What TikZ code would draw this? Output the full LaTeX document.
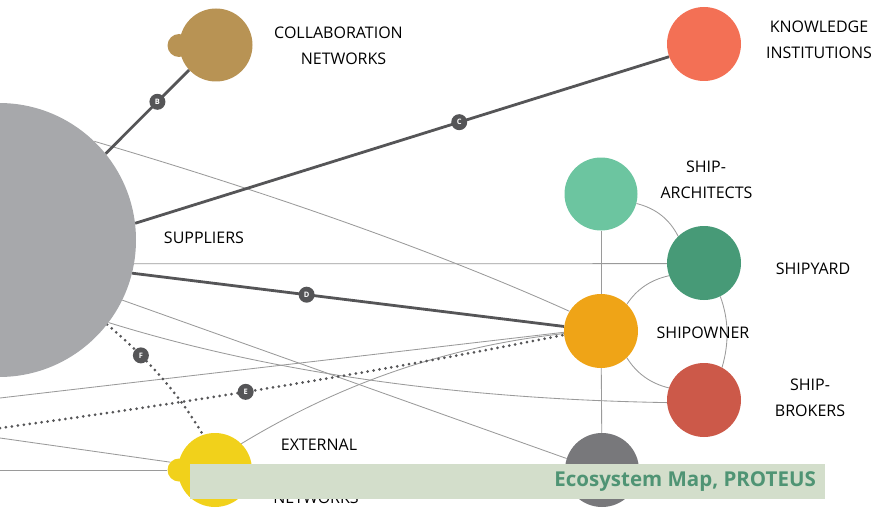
\documentclass[tikz,border=0pt]{standalone}
\usepackage{fontspec}
\setmainfont{Open Sans}
\definecolor{supc}{HTML}{A7A8AB}
\definecolor{colc}{HTML}{B89354}
\definecolor{knowc}{HTML}{F37055}
\definecolor{archc}{HTML}{6CC5A0}
\definecolor{yardc}{HTML}{479A77}
\definecolor{ownc}{HTML}{EFA417}
\definecolor{brokc}{HTML}{CC5949}
\definecolor{greyc}{HTML}{78787B}
\definecolor{extc}{HTML}{F1D11B}
\definecolor{darkline}{HTML}{555557}
\definecolor{thingrey}{HTML}{9A9A9A}
\definecolor{bannerc}{HTML}{D3DECB}
\definecolor{bannertext}{HTML}{4F9474}
\pgfdeclarelayer{bg}
\pgfdeclarelayer{fg}
\pgfsetlayers{bg,main,fg}
\begin{document}
\begin{tikzpicture}[x=1pt,y=-1pt,
  blob/.style={circle,inner sep=0pt,minimum size=74pt},
  bump/.style={circle,inner sep=0pt,minimum size=23pt},
  lbl/.style={font=\fontsize{16}{19}\selectfont,text=black,inner sep=0pt},
  thinline/.style={draw=thingrey,line width=0.85pt},
  strong/.style={draw=darkline,line width=2.8pt},
  dotline/.style={draw=darkline,line width=3pt,line cap=round,dash pattern=on 0pt off 6pt},
  tag/.style={circle,fill=darkline,text=white,inner sep=0pt,minimum size=16pt,font=\fontsize{7.5}{7.5}\selectfont\bfseries}
]
\useasboundingbox (0,0) rectangle (872,508);
\clip (0,0) rectangle (872,508);
% nodes
\node[blob,minimum size=274pt,fill=supc] (sup) at (-1,240) {};
\node[bump,fill=colc] (colb) at (179,45.5) {};
\node[blob,minimum size=73pt,fill=colc] (col) at (216,45) {};
\node[blob,fill=knowc] (know) at (704,44) {};
\node[blob,minimum size=73pt,fill=archc] (arch) at (601,194) {};
\node[blob,fill=yardc] (yard) at (704,263) {};
\node[blob,fill=ownc] (own) at (601,331) {};
\node[blob,fill=brokc] (brok) at (704,400) {};
\node[blob,fill=greyc] (grey) at (602,470) {};
\node[bump,fill=extc] (extb) at (179,470) {};
\node[blob,fill=extc] (ext) at (215,470) {};
% labels
\node[lbl] (t1) at (338.5,32.5) {COLLABORATION};
\node[lbl] (t2) at (343.5,59) {NETWORKS};
\node[lbl] (t3) at (819,26.5) {KNOWLEDGE};
\node[lbl] (t4) at (819,53) {INSTITUTIONS};
\node[lbl] (t5) at (706,166.5) {SHIP-};
\node[lbl] (t6) at (706.5,193) {ARCHITECTS};
\node[lbl] (t7) at (813,269) {SHIPYARD};
\node[lbl] (t8) at (703,332.5) {SHIPOWNER};
\node[lbl] (t9) at (810,384.5) {SHIP-};
\node[lbl] (t10) at (810,410.5) {BROKERS};
\node[lbl] (t11) at (204,238) {SUPPLIERS};
\node[lbl] (t12) at (319,445) {EXTERNAL};
\node[lbl] (t13) at (316,498) {NETWORKS};
% connectors
\begin{pgfonlayer}{bg}
\draw[thinline] (sup.46.8) .. controls (290,199) and (449,257) .. (own.148.5);
\draw[thinline] (sup.-10.1) -- (yard.181.5);
\draw[thinline] (sup.-26.6) -- (grey.162.6);
\draw[thinline] (sup.-37.9) .. controls (268,372) and (455,399) .. (brok.184.6);
\coordinate (l5) at (0,398);
\draw[thinline] (l5) -- (own.182);
\draw[thinline] (ext.45) .. controls (343,382) and (450,346) .. (own.184);
\coordinate (l7) at (0,438);
\draw[thinline] (l7) -- (extb.138);
\coordinate (l8) at (0,470);
\draw[thinline] (l8) -- (extb.180);
\draw[thinline] (arch) -- (own);
\draw[thinline] (own) -- (grey);
\draw[thinline] (arch.-15.5) .. controls (655.7,208.3) and (669.3,219) .. (yard.134);
\draw[thinline] (own.46) .. controls (636.9,289.1) and (650.6,279.8) .. (yard.200);
\draw[thinline] (yard.-64) .. controls (728.7,319.3) and (729.3,342.7) .. (brok.61);
\draw[thinline] (own.-46) .. controls (636.7,373.4) and (650.4,383.4) .. (brok.161.6);
\draw[strong] (sup.39.4) -- node[tag,pos=0.62] (tagB) {B} (col.223.9);
\draw[strong] (sup.7.5) -- node[tag,pos=0.607] (tagC) {C} (know.200.9);
\draw[strong] (sup.-14.3) -- node[tag,pos=0.404] (tagD) {D} (own.173.7);
\coordinate (e0) at (0,428);
\draw[dotline] (e0) .. controls (200,401) and (388,370) .. node[tag,pos=0.42] (tagE) {E} (own.186);
\draw[dotline] (sup.-38.5) .. controls (147,358) and (179,394) .. node[tag,pos=0.3] (tagF) {F} (ext.109);
\end{pgfonlayer}
% banner
\begin{pgfonlayer}{fg}
\fill[bannerc] (190,464) rectangle (825,499);
\node[anchor=east,inner sep=0pt,text=bannertext,font=\fontsize{20.5}{24}\selectfont\bfseries] (title) at (816,482) {Ecosystem Map, PROTEUS};
\end{pgfonlayer}
\end{tikzpicture}
\end{document}
